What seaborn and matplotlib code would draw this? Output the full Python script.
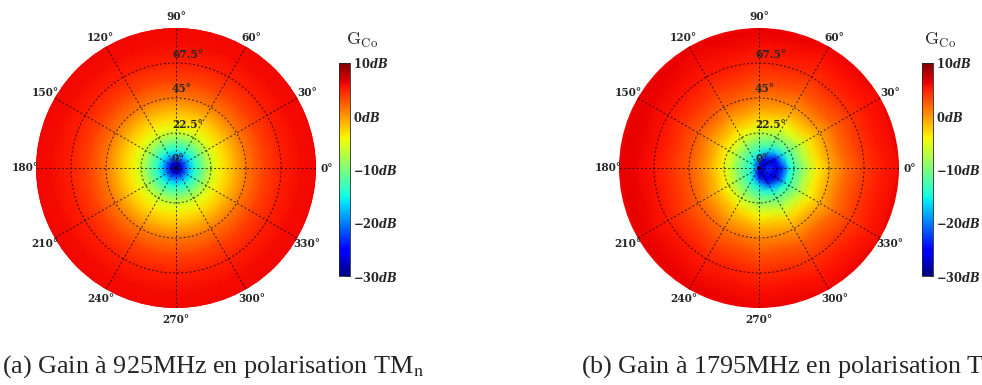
import numpy as np
import matplotlib
matplotlib.use("Agg")
import matplotlib.pyplot as plt
import matplotlib.colors as mcolors
import matplotlib.transforms as mtrans
from matplotlib.ticker import MultipleLocator
import seaborn as sns

# ---------------- data ----------------
# radial nodes: elevation angle from the pole, degrees
theta_nodes = [0, 3, 6, 9, 12, 16, 20, 25, 31, 38, 46, 56, 68, 80, 90]

# (a) 925 MHz : rotationally symmetric co-polar gain, dB
gain_a = [-30, -26, -21, -17, -14, -11, -8, -5, -3, -1, 1.5, 3.5, 5, 5.8, 6]

# (b) 1795 MHz : co-polar gain along azimuth cuts, dB
phi_cuts_b = [0, 30, 60, 90, 120, 150, 180, 210, 240, 270, 300, 330]
gain_b_phi0 = [-24.5, -26.4, -23.1, -24.0, -27.3, -22.1, -14.9, -11.2, -7.5, -3.7, -0.9, 1.8, 3.9, 5.3, 5.9]
gain_b_phi30 = [-24.5, -27.4, -27.0, -27.8, -24.3, -17.1, -12.9, -9.8, -6.1, -2.9, -0.3, 2.2, 4.1, 5.5, 5.9]
gain_b_phi60 = [-24.5, -26.6, -25.2, -20.8, -16.7, -13.0, -10.6, -7.6, -4.3, -1.8, 0.6, 2.8, 4.5, 5.6, 6.1]
gain_b_phi90 = [-24.5, -23.0, -19.0, -15.6, -13.1, -10.7, -8.4, -5.4, -2.8, -0.6, 1.5, 3.4, 4.9, 5.8, 6.3]
gain_b_phi120 = [-24.5, -19.5, -16.0, -13.5, -11.5, -9.1, -6.6, -4.0, -1.9, 0.3, 2.3, 3.9, 5.3, 5.9, 6.3]
gain_b_phi150 = [-24.5, -17.5, -14.5, -12.5, -10.6, -8.2, -5.7, -3.3, -1.3, 0.7, 2.6, 4.1, 5.5, 6.1, 6.3]
gain_b_phi180 = [-24.5, -16.5, -14.0, -12.2, -10.6, -8.1, -5.6, -3.3, -1.2, 0.8, 2.7, 4.1, 5.5, 6.1, 6.3]
gain_b_phi210 = [-24.5, -18.0, -15.0, -13.0, -11.3, -8.8, -6.4, -3.9, -1.7, 0.4, 2.4, 3.9, 5.3, 6.0, 6.3]
gain_b_phi240 = [-24.5, -21.0, -18.0, -14.9, -12.7, -10.3, -8.0, -5.0, -2.5, -0.4, 1.7, 3.5, 5.0, 5.8, 6.3]
gain_b_phi270 = [-24.5, -25.5, -24.0, -19.5, -15.6, -12.4, -10.1, -7.2, -4.0, -1.5, 0.8, 2.9, 4.6, 5.7, 6.1]
gain_b_phi300 = [-24.5, -27.7, -27.5, -26.7, -22.5, -15.9, -12.4, -9.4, -5.8, -2.6, -0.1, 2.4, 4.2, 5.5, 6.0]
gain_b_phi330 = [-24.5, -26.5, -23.8, -24.9, -27.7, -21.2, -14.7, -11.0, -7.3, -3.6, -0.9, 1.8, 3.9, 5.3, 5.9]

# axis / tick labels
azimuth_ticks = [0, 30, 60, 90, 120, 150, 180, 210, 240, 270, 300, 330]
elev_ticks = [0, 22.5, 45, 67.5]
elev_labels = ["0°", "22.5°", "45°", "67.5°"]
cbar_ticks = [10, 0, -10, -20, -30]
cbar_labels = ["10", "0", "-10", "-20", "-30"]
captions = ["(a) Gain à 925MHz en polarisation TM$_\\mathrm{n}$",
            "(b) Gain à 1795MHz en polarisation TM$_\\mathrm{n}$"]
gmin, gmax = -30, 10

# ---------------- style ----------------
sns.set_theme(style="white")
plt.rcParams["font.family"] = ["DejaVu Serif", "DejaVu Sans"]
plt.rcParams["mathtext.fontset"] = "custom"
plt.rcParams["mathtext.rm"] = "DejaVu Serif:bold"
plt.rcParams["mathtext.bf"] = "DejaVu Serif:bold"
plt.rcParams["mathtext.it"] = "DejaVu Serif:italic:bold"
cmap = matplotlib.colormaps["jet"]
norm = mcolors.Normalize(vmin=gmin, vmax=gmax)

W, H = 982, 385
fig = plt.figure(figsize=(W / 100, H / 100), dpi=100)


def fx(px):
    return px / W


def fy(py):
    return 1 - py / H


# tables for the meshes
r_nodes = np.array(theta_nodes, dtype=float)
phi_a = np.arange(0, 361, 5)
table_a = np.tile(np.array(gain_a, dtype=float), (len(phi_a), 1))
rows_b = [gain_b_phi0, gain_b_phi30, gain_b_phi60, gain_b_phi90, gain_b_phi120,
          gain_b_phi150, gain_b_phi180, gain_b_phi210, gain_b_phi240,
          gain_b_phi270, gain_b_phi300, gain_b_phi330]
phi_b = np.array(phi_cuts_b + [360])
table_b = np.array(rows_b + [rows_b[0]], dtype=float)

panels = [
    dict(phi=phi_a, table=table_a, box=(36, 28), cbar_x=339, glabel_x=346),
    dict(phi=phi_b, table=table_b, box=(619, 28), cbar_x=922, glabel_x=924),
]
size = 280
cap_x = [2, 581]
lab_font = dict(family="DejaVu Serif", weight="bold", size=7.6)

for i, p in enumerate(panels):
    x0, y0 = p["box"]
    ax = fig.add_axes([fx(x0), fy(y0 + size), fx(size), size / H], projection="polar")
    PHI, R = np.meshgrid(np.deg2rad(p["phi"]), r_nodes, indexing="ij")
    mesh = ax.pcolormesh(PHI, R, p["table"], shading="gouraud", cmap=cmap, norm=norm)
    ax.set_facecolor(cmap(norm(p["table"][:, -1].mean())))
    ax.set_ylim(0, 90)
    ax.set_yticks(elev_ticks)
    ax.set_yticklabels([])
    ax.set_xticks(np.deg2rad(azimuth_ticks))
    ax.set_xticklabels([f"{a}°" for a in azimuth_ticks], fontdict=lab_font)
    ax.tick_params(axis="x", pad=1.0, length=0)
    ax.tick_params(axis="y", length=0)
    ax.set_axisbelow(False)
    ax.grid(True, color="black", linestyle=(0, (2.0, 2.0)), linewidth=0.75, alpha=0.7)
    ax.spines["polar"].set_visible(False)
    off = mtrans.ScaledTranslation(-0.04, 0.035, fig.dpi_scale_trans)
    for r, lab in zip(elev_ticks, elev_labels):
        ax.text(np.pi / 2, r, lab, ha="left", va="bottom", fontdict=lab_font,
                transform=ax.transData + off, zorder=5)

    cax = fig.add_axes([fx(p["cbar_x"]), fy(276), fx(11), 213 / H])
    cb = fig.colorbar(mesh, cax=cax, ticks=cbar_ticks)
    cb.set_ticklabels([rf"${t}dB$" for t in cbar_labels])
    cax.yaxis.set_minor_locator(MultipleLocator(2.5))
    cax.tick_params(which="major", direction="in", length=3, width=0.6, labelsize=8.3, pad=2)
    cax.tick_params(which="minor", direction="in", length=1.8, width=0.5)
    cb.outline.set_linewidth(0.6)
    fig.text(fx(p["glabel_x"]), fy(40), r"$\mathrm{G}_{\mathrm{Co}}$", fontsize=13,
             ha="left", va="center", math_fontfamily="cm")

    fig.text(fx(cap_x[i]), fy(373), captions[i], fontsize=18.8, ha="left", va="baseline",
             family=["Liberation Serif", "DejaVu Serif"], math_fontfamily="stix")

fig.savefig("out.png", dpi=100)
